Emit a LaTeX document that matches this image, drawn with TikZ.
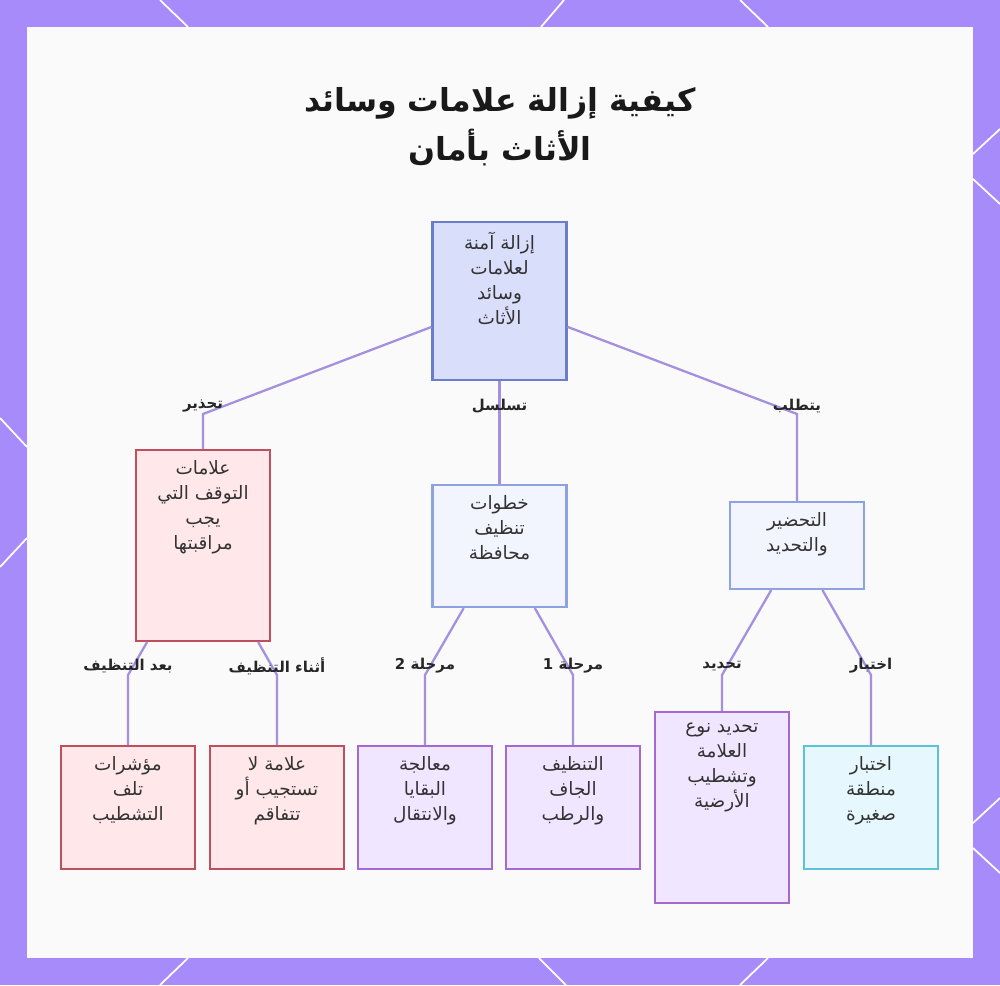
\documentclass[tikz,border=0pt]{standalone}
\usepackage{fontspec}
\newfontfamily\arabicfont[Script=Arabic]{DejaVu Sans}
\TeXXeTstate=1

\definecolor{framecol}{HTML}{A78BFA}
\definecolor{panelcol}{HTML}{FAFAFA}
\definecolor{edgecol}{HTML}{A590E0}
\definecolor{rootfill}{HTML}{D9DEFB}
\definecolor{rootline}{HTML}{6B7CCB}
\definecolor{bluefill}{HTML}{F3F5FE}
\definecolor{blueline}{HTML}{8FA2E0}
\definecolor{redfill}{HTML}{FFE7EA}
\definecolor{redline}{HTML}{C04F5E}
\definecolor{purpfill}{HTML}{F1E6FF}
\definecolor{purpline}{HTML}{A36AD4}
\definecolor{cyanfill}{HTML}{E6F8FD}
\definecolor{cyanline}{HTML}{5BC3D8}
\definecolor{textgray}{HTML}{333333}

\newcommand{\artxt}[1]{\beginR #1\endR}
\newcommand{\cardtext}[2]{\parbox[t][#1][t]{2.68cm}{\centering\vspace*{6pt}#2}}

\begin{document}
\begin{tikzpicture}[x=0.02cm, y=-0.02cm,
    card/.style={draw, line width=1.2pt, inner sep=0pt, anchor=north, text=textgray,
      font=\arabicfont\fontsize{10.5}{14.2}\selectfont},
    rootcard/.style={card, draw=rootline, fill=rootfill},
    bluecard/.style={card, draw=blueline, fill=bluefill},
    redcard/.style={card, draw=redline, fill=redfill},
    purpcard/.style={card, draw=purpline, fill=purpfill},
    cyancard/.style={card, draw=cyanline, fill=cyanfill},
    edge/.style={draw=edgecol, line width=1.3pt},
    edgelabel/.style={font=\arabicfont\bfseries\fontsize{8.5}{10}\selectfont, text=black!85, inner sep=1pt}]

    % Fond et cadre
    \useasboundingbox (0,0) rectangle (1000,985);
    \fill[framecol] (0,0) rectangle (1000,985);
    \draw[white, line width=1pt] (160,0) -- (188,27) (564,0) -- (541,27) (740,0) -- (768,27);
    \draw[white, line width=1pt] (188,958) -- (160,985) (539,958) -- (566,985) (768,958) -- (740,985);
    \draw[white, line width=1pt] (0,418) -- (27,447) (27,538) -- (0,567);
    \draw[white, line width=1pt] (973,154) -- (1000,129) (973,179) -- (1000,204);
    \draw[white, line width=1pt] (973,823) -- (1000,798) (973,848) -- (1000,873);
    \fill[panelcol] (27,27) rectangle (973,958);

    % Titre
    \node[align=center, text=black!90, font=\arabicfont\bfseries\fontsize{18}{28}\selectfont]
      (title) at (500,127) {\artxt{كيفية إزالة علامات وسائد}\\\artxt{الأثاث بأمان}};

    % Boites
    \node[rootcard] (root) at (499.5,221) {\cardtext{3.16cm}{\artxt{إزالة آمنة}\\\artxt{لعلامات}\\\artxt{وسائد}\\\artxt{الأثاث}}};
    \node[redcard] (warn) at (203,449) {\cardtext{3.82cm}{\artxt{علامات}\\\artxt{التوقف التي}\\\artxt{يجب}\\\artxt{مراقبتها}}};
    \node[bluecard] (steps) at (499.5,484) {\cardtext{2.44cm}{\artxt{خطوات}\\\artxt{تنظيف}\\\artxt{محافظة}}};
    \node[bluecard] (prep) at (797,501) {\cardtext{1.74cm}{\artxt{التحضير}\\\artxt{والتحديد}}};

    \node[redcard] (after) at (128,745) {\cardtext{2.46cm}{\artxt{مؤشرات}\\\artxt{تلف}\\\artxt{التشطيب}}};
    \node[redcard] (during) at (277,745) {\cardtext{2.46cm}{\artxt{علامة لا}\\\artxt{تستجيب أو}\\\artxt{تتفاقم}}};
    \node[purpcard] (phase2) at (425,745) {\cardtext{2.46cm}{\artxt{معالجة}\\\artxt{البقايا}\\\artxt{والانتقال}}};
    \node[purpcard] (phase1) at (573,745) {\cardtext{2.46cm}{\artxt{التنظيف}\\\artxt{الجاف}\\\artxt{والرطب}}};
    \node[purpcard] (ident) at (722,711) {\cardtext{3.82cm}{\artxt{تحديد نوع}\\\artxt{العلامة}\\\artxt{وتشطيب}\\\artxt{الأرضية}}};
    \node[cyancard] (test) at (871,745) {\cardtext{2.46cm}{\artxt{اختبار}\\\artxt{منطقة}\\\artxt{صغيرة}}};

    % Points de coude
    \coordinate (bWarn) at (203,414);
    \coordinate (bSteps) at (499.5,414);
    \coordinate (bPrep) at (797,414);
    \coordinate (bAfter) at (128,675);
    \coordinate (bDuring) at (277,675);
    \coordinate (bPhase2) at (425,675);
    \coordinate (bPhase1) at (573,675);
    \coordinate (bIdent) at (722,675);
    \coordinate (bTest) at (871,675);

    % Liaisons
    \draw[edge] (root) -- (bWarn) -- (warn);
    \draw[edge] (root) -- (bSteps) -- (steps);
    \draw[edge] (root) -- (bPrep) -- (prep);
    \draw[edge] (warn) -- (bAfter) -- (after);
    \draw[edge] (warn) -- (bDuring) -- (during);
    \draw[edge] (steps) -- (bPhase2) -- (phase2);
    \draw[edge] (steps) -- (bPhase1) -- (phase1);
    \draw[edge] (prep) -- (bIdent) -- (ident);
    \draw[edge] (prep) -- (bTest) -- (test);

    % Etiquettes des liaisons
    \node[edgelabel] (lWarn) at (203,406) {\artxt{تحذير}};
    \node[edgelabel] (lSteps) at (499.5,406) {\artxt{تسلسل}};
    \node[edgelabel] (lPrep) at (797,406) {\artxt{يتطلب}};
    \node[edgelabel] (lAfter) at (128,666) {\artxt{بعد التنظيف}};
    \node[edgelabel] (lDuring) at (277,666) {\artxt{أثناء التنظيف}};
    \node[edgelabel] (lPhase2) at (425,666) {\artxt{مرحلة 2}};
    \node[edgelabel] (lPhase1) at (573,666) {\artxt{مرحلة 1}};
    \node[edgelabel] (lIdent) at (722,666) {\artxt{تحديد}};
    \node[edgelabel] (lTest) at (871,666) {\artxt{اختبار}};

\end{tikzpicture}
\end{document}
